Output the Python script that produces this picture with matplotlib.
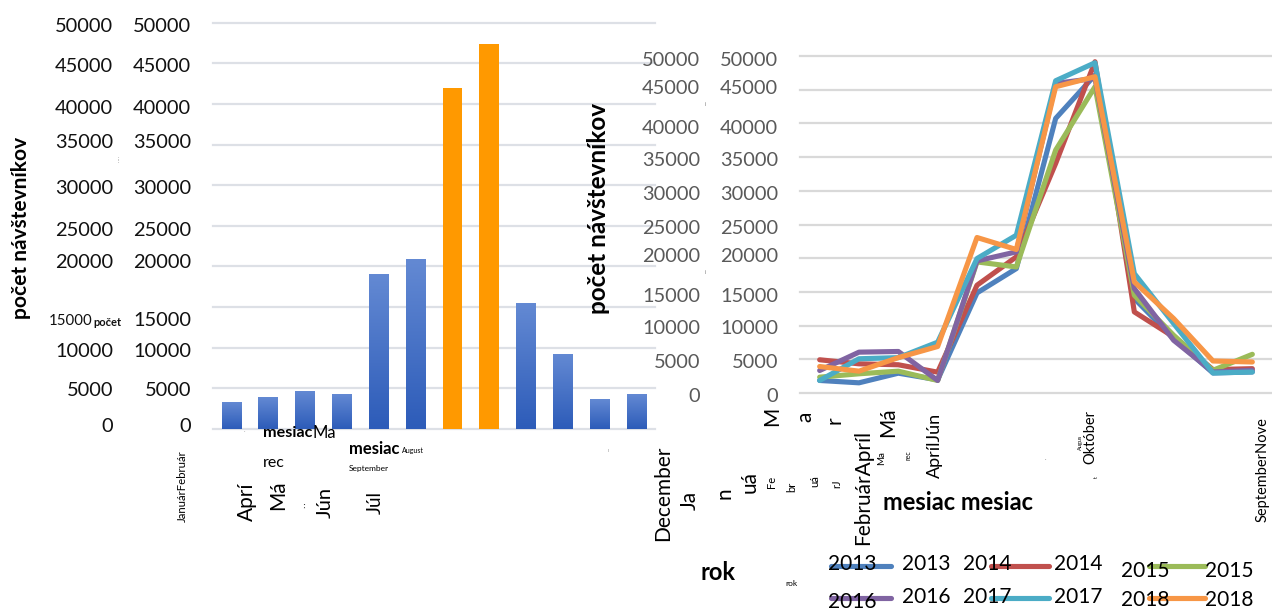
import matplotlib
matplotlib.use("Agg")
import matplotlib.pyplot as plt
from matplotlib.lines import Line2D
from matplotlib.colors import LinearSegmentedColormap
import numpy as np

plt.rcParams['font.family'] = ['Lato', 'DejaVu Sans']

W, H = 1272, 611

# data
mesiace = ["Január", "Február", "Marec", "Apríl", "Máj", "Jún",
           "Júl", "August", "September", "Október", "November", "December"]
navstevnici = [3240, 3850, 4590, 4220, 19040, 20880,
               41930, 47380, 15470, 9190, 3650, 4220]
zvyraznene = [False, False, False, False, False, False,
              True, True, False, False, False, False]

roky = ["2013", "2014", "2015", "2016", "2017", "2018"]
rok_2013 = [1860, 1510, 2940, 1960, 14850, 18460, 40740, 47170, 14010, 8070, 2970, 3120]
rok_2014 = [4930, 4330, 4190, 3090, 15990, 20200, 34060, 49150, 12030, 8320, 3470, 3610]
rok_2015 = [2350, 2850, 3240, 1860, 19450, 18700, 36040, 45440, 14500, 8560, 3370, 5740]
rok_2016 = [3340, 6060, 6160, 1860, 19600, 20940, 45940, 46680, 15490, 7820, 3120, 3370]
rok_2017 = [1860, 5080, 5250, 7540, 19950, 23410, 46330, 49000, 17720, 10300, 2970, 3120]
rok_2018 = [3930, 3240, 5250, 6900, 23070, 21290, 45440, 46930, 16480, 11040, 4750, 4600]
serie = [rok_2013, rok_2014, rok_2015, rok_2016, rok_2017, rok_2018]
farby = ["#4f81bd", "#c0504d", "#9bbb59", "#8064a2", "#4bacc6", "#f79646"]

ticks = [0, 5000, 10000, 15000, 20000, 25000, 30000, 35000, 40000, 45000, 50000]

# where the (shuffled) labels sit in the source picture, pixels
ly_left = [426, 391, 351, 320, 262, 230, 189, 142, 108, 67, 26]
ly_right = [397, 363, 328, 296, 257, 229, 195, 161, 128, 88, 61]


def px(x, y):
    return x / W, 1 - y / H


def txt(x, y, s, size, **kw):
    kw.setdefault("ha", "center")
    kw.setdefault("va", "center")
    fig.text(*px(x, y), s, fontsize=size, **kw)


fig = plt.figure(figsize=(W / 100, H / 100), dpi=100)

# left: bar chart
ax1 = fig.add_axes([213 / W, 1 - 429 / H, (655 - 213) / W, (429 - 22.7) / H])
modra = LinearSegmentedColormap.from_list("modra", ["#2d5cb9", "#6389d3"])
x = np.arange(len(mesiace))
for i, v in enumerate(navstevnici):
    if zvyraznene[i]:
        ax1.bar(x[i], v, width=0.53, color="#ff9900", zorder=3)
    else:
        ax1.imshow(np.linspace(1, 0, 64).reshape(-1, 1), cmap=modra,
                   extent=(x[i] - 0.265, x[i] + 0.265, 0, v),
                   aspect="auto", zorder=3)

# right: line chart
ax2 = fig.add_axes([800 / W, 1 - 393 / H, (1272 - 800) / W, (393 - 56) / H])
for vals, c in zip(serie, farby):
    ax2.plot(x, vals, color=c, lw=3.7, solid_joinstyle="round",
             solid_capstyle="round", zorder=3)

for ax, gc in ((ax1, "#dde0e6"), (ax2, "#d9d9d9")):
    ax.set_xlim(-0.5, 11.5)
    ax.set_ylim(0, 50000)
    ax.set_yticks(ticks)
    ax.set_xticks([])
    ax.tick_params(length=0, labelleft=False)
    ax.yaxis.grid(True, color=gc, lw=1.6)
    ax.set_axisbelow(True)
    for s in ax.spines.values():
        s.set_visible(False)
    for gl in ax.get_ygridlines():
        gl.set_clip_on(False)

# y tick labels (two columns each)
for v, y in zip(ticks, ly_left):
    if v == 15000:
        txt(93, y + 1, "15000", 10.8, ha="right", color="#111111")
        txt(93, y + 2, "počet", 8, ha="left", weight="bold", color="#111111")
    else:
        txt(113, y, str(v), 14.4, ha="right", color="#111111")
    txt(191, y, str(v), 14.4, ha="right", color="#111111")
for v, y in zip(ticks, ly_right):
    txt(700, y, str(v), 14.4, ha="right", color="#595959")
    txt(778, y, str(v), 14.4, ha="right", color="#595959")

txt(118, 160, "⁞", 4, color="#777777")
txt(705, 105, "i", 4, color="#777777")
txt(705, 272, "i", 4, color="#777777")

# axis titles
txt(21.5, 228, "počet návštevníkov", 15, rotation=90, weight="bold")
txt(598, 209, "počet návštevníkov", 17.5, rotation=90, weight="bold")

# left x labels
txt(182, 486, "JanuárFebruár", 8.2, rotation=90)
txt(263, 433, "mesiac", 11.6, ha="left", weight="bold")
txt(312, 433, "Ma", 12, ha="left")
txt(263, 463, "rec", 11.5, ha="left")
txt(247, 502, "Aprí", 15, rotation=90)
txt(278, 495, "Má", 15, rotation=90)
txt(304, 506, "ː", 6)
txt(325, 502, "Jún", 14.5, rotation=90)
txt(375, 502, "Júl", 13.5, rotation=90)
txt(349, 449, "mesiac", 12, ha="left", weight="bold")
txt(402, 451, "August", 5, ha="left")
txt(349, 468, "September", 6, ha="left")
txt(244, 432, "·", 4, color="#999999")
txt(608, 450, "ı", 4, color="#999999")

# right x labels
txt(663, 493, "December", 15, rotation=90)
txt(690, 500, "Ja", 15, rotation=90)
txt(724, 493, "n", 15, rotation=90)
txt(750, 482, "uá", 15, rotation=90)
txt(771, 482, "Fe", 8, rotation=90)
txt(792, 487, "br", 8, rotation=90)
txt(815, 481, "uá", 8, rotation=90)
txt(837, 484, "rJ", 8, rotation=90)
txt(772, 416, "M", 15, rotation=90)
txt(805, 417, "a", 15, rotation=90)
txt(834, 420, "r", 15, rotation=90)
txt(863, 487, "FebruárApríl", 15, rotation=90)
txt(882, 458, "Ma", 7, rotation=90)
txt(888, 422, "Má", 15, rotation=90)
txt(908, 455, "rec", 5, rotation=90)
txt(935, 445, "AprílJún", 13, rotation=90)
txt(1045, 460, "·", 4, color="#777777")
txt(1080, 442, "Augus", 4, rotation=90)
txt(1096, 477, "t", 4, rotation=90)
txt(1090, 437, "Október", 10.5, rotation=90)
txt(1263, 470, "SeptemberNove", 10.5, rotation=90)
txt(883, 502, "mesiac mesiac", 17, ha="left", weight="bold")

# legend (as laid out in the source)
txt(701, 572, "rok", 17, ha="left", weight="bold")
txt(785, 583, "rok", 6, ha="left")
leg_x = [(828, 831, 891, 902), (963, 991, 1049, 1054), (1121, 1149, 1205, 1205)]
leg_ty = [[(564, 564), (564, 564), (571, 571)],
          [(602, 597), (597, 597), (600, 600)]]
for k, (r, c) in enumerate(zip(roky, farby)):
    row, col = divmod(k, 3)
    t0, l0, l1, t1 = leg_x[col]
    yl = 566 + 32 * row
    fig.add_artist(Line2D([l0 / W, l1 / W], [1 - yl / H, 1 - yl / H], color=c,
                          lw=3.7, solid_capstyle="round"))
    y0, y1 = leg_ty[row][col]
    txt(t0, y0, r, 15, ha="left")
    txt(t1, y1, r, 15, ha="left")

fig.savefig("out.png", dpi=100)
